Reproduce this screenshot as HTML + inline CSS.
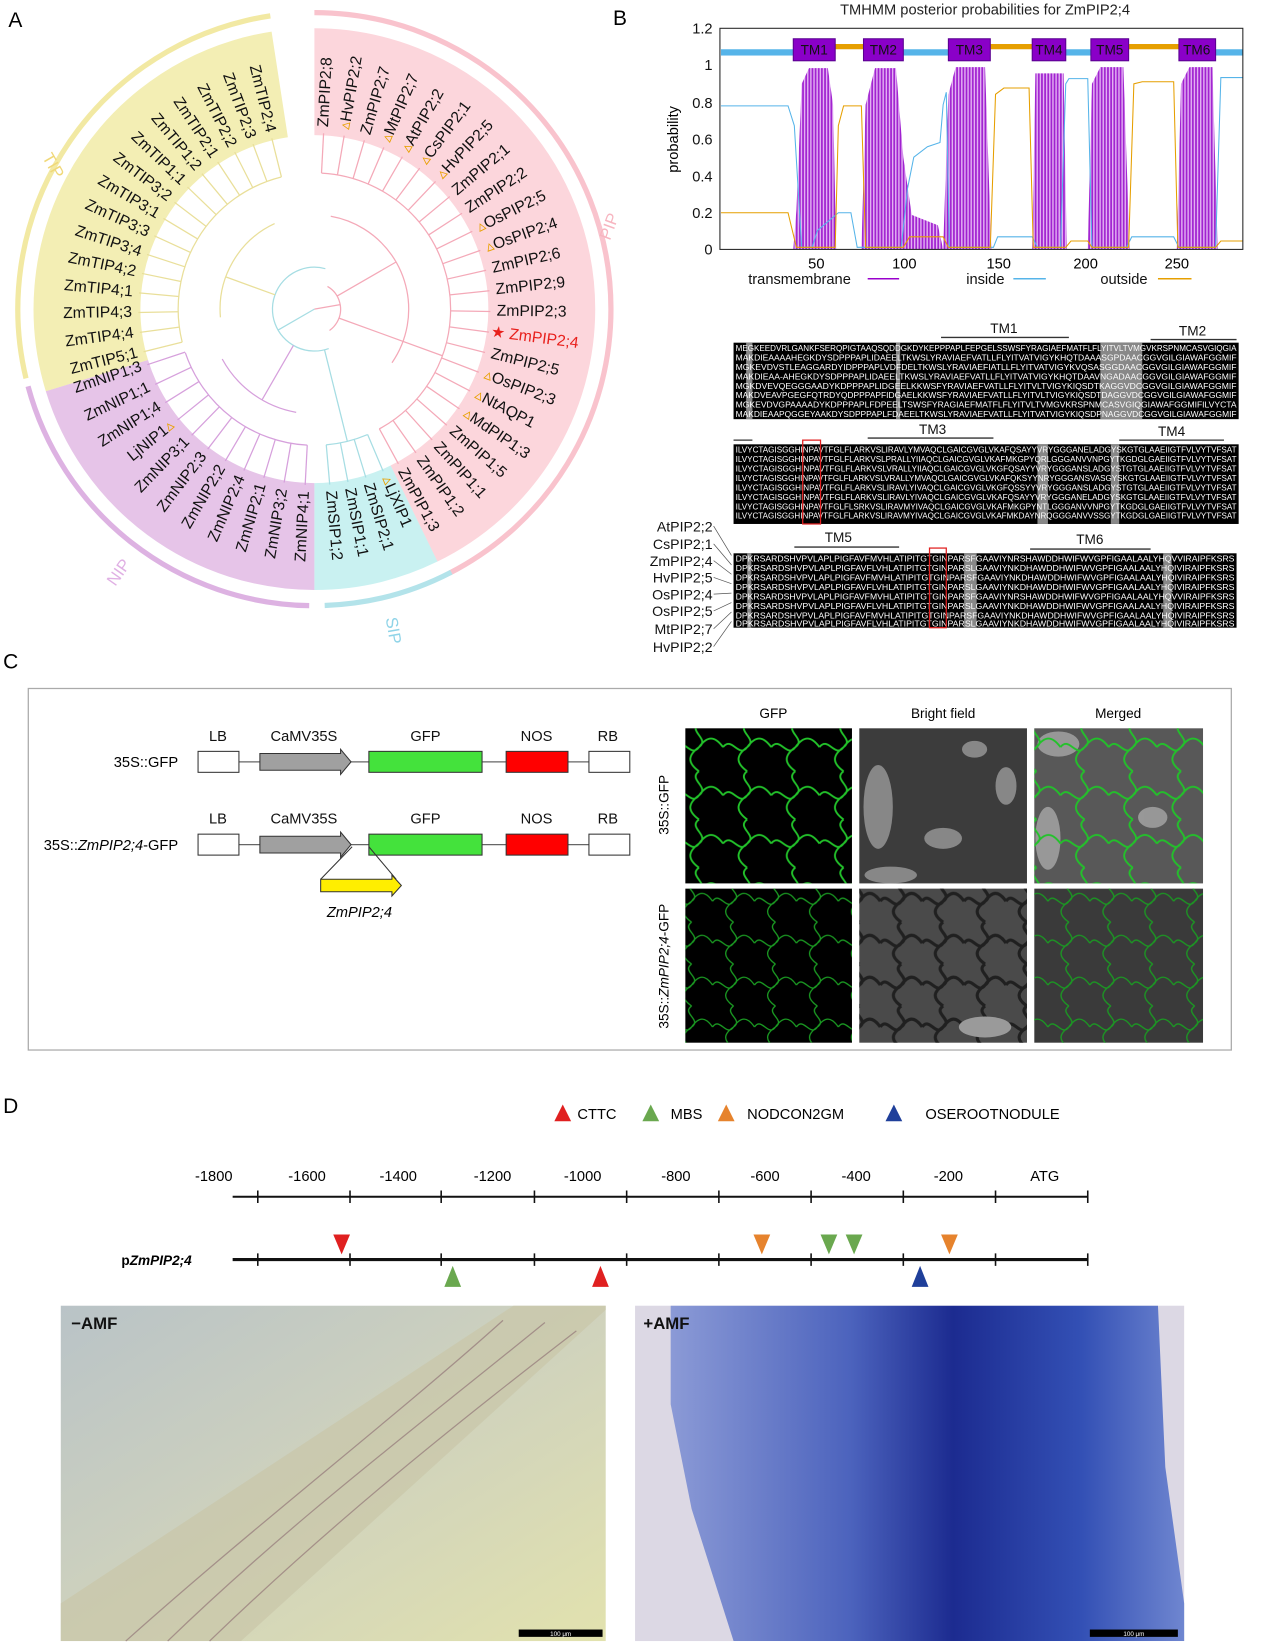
<!DOCTYPE html>
<html><head><meta charset="utf-8"><style>
html,body{margin:0;padding:0;background:#fff;width:1268px;height:1642px;overflow:hidden}
#c{position:absolute;left:0;top:0;width:1210px;height:1567px;transform:scale(1.04793);transform-origin:0 0;font-family:"Liberation Sans",Arial,sans-serif}
svg text{font-family:"Liberation Sans",Arial,sans-serif}
</style></head><body><div id="c">
<svg width="1210" height="1567" viewBox="0 0 1210 1567" xmlns="http://www.w3.org/2000/svg">
<defs>
<pattern id="stripe" width="3" height="10" patternUnits="userSpaceOnUse"><rect width="3" height="10" fill="#e2b0f2"/><rect x="0.5" width="1.6" height="10" fill="#a020d0"/></pattern>
<pattern id="cellG" width="46" height="46" patternUnits="userSpaceOnUse"><path d="M0,23 C8,12 15,34 23,23 S38,12 46,23 M23,0 C12,8 34,15 23,23 S12,38 23,46" fill="none" stroke="#22c22a" stroke-width="1.8"/></pattern>
<pattern id="cellG2" width="40" height="40" patternUnits="userSpaceOnUse"><path d="M0,20 C7,10 13,30 20,20 S33,10 40,20 M20,0 C10,7 30,13 20,20 S10,33 20,40" fill="none" stroke="#1a9a22" stroke-width="1.3"/></pattern>
<pattern id="cellK" width="40" height="40" patternUnits="userSpaceOnUse"><path d="M0,20 C7,10 13,30 20,20 S33,10 40,20 M20,0 C10,7 30,13 20,20 S10,33 20,40" fill="none" stroke="#202020" stroke-width="3"/></pattern>
<linearGradient id="rootL" x1="0" y1="0" x2="1" y2="1"><stop offset="0" stop-color="#b9c3c7"/><stop offset="0.5" stop-color="#cfd2bd"/><stop offset="1" stop-color="#e2e2ae"/></linearGradient>
<linearGradient id="rootR" x1="0" y1="0" x2="1" y2="0"><stop offset="0" stop-color="#8b9ad6"/><stop offset="0.35" stop-color="#4c63bd"/><stop offset="0.55" stop-color="#1c2b90"/><stop offset="0.8" stop-color="#3350b5"/><stop offset="1" stop-color="#6f86d0"/></linearGradient>
</defs>

<text x="8" y="26" font-size="20">A</text>
<text x="585" y="24" font-size="20">B</text>
<text x="3" y="638" font-size="20">C</text>
<text x="3" y="1062" font-size="20">D</text>

<!-- ===== Panel A: tree ===== -->
<g fill="none">
<circle cx="300" cy="295" r="217" stroke="#fcd6dc" stroke-width="102" stroke-dasharray="583.3 2000" transform="rotate(-90 300 295)"/>
<circle cx="300" cy="295" r="217" stroke="#c9f1f1" stroke-width="102" stroke-dasharray="98.5 2000" transform="rotate(64 300 295)"/>
<circle cx="300" cy="295" r="217" stroke="#e6c4e8" stroke-width="102" stroke-dasharray="276.5 2000" transform="rotate(90 300 295)"/>
<circle cx="300" cy="295" r="217" stroke="#f3eeb4" stroke-width="102" stroke-dasharray="372 2000" transform="rotate(163 300 295)"/>
<circle cx="300" cy="295" r="283" stroke="#f2e9a3" stroke-width="5" stroke-dasharray="469 3000" transform="rotate(166.5 300 295)"/>
<circle cx="300" cy="295" r="283" stroke="#f9c3cd" stroke-width="5" stroke-dasharray="755 3000" transform="rotate(-90 300 295)"/>
<circle cx="300" cy="295" r="283" stroke="#ddb2e2" stroke-width="5" stroke-dasharray="365 3000" transform="rotate(91 300 295)"/>
<circle cx="300" cy="295" r="283" stroke="#b3e3ea" stroke-width="5" stroke-dasharray="126 3000" transform="rotate(62.5 300 295)"/>
<circle cx="300" cy="295" r="130" stroke="#f4a9b8" stroke-width="1.2" stroke-dasharray="337 2000" transform="rotate(-87 300 295)"/>
<circle cx="300" cy="295" r="90" stroke="#f4a9b8" stroke-width="1.2" stroke-dasharray="180 2000" transform="rotate(-80 300 295)"/>
<circle cx="300" cy="295" r="130" stroke="#a6dde3" stroke-width="1.2" stroke-dasharray="41 2000" transform="rotate(67 300 295)"/>
<circle cx="300" cy="295" r="130" stroke="#d6a0dc" stroke-width="1.2" stroke-dasharray="155 2000" transform="rotate(93 300 295)"/>
<circle cx="300" cy="295" r="100" stroke="#d6a0dc" stroke-width="1.2" stroke-dasharray="90 2000" transform="rotate(100 300 295)"/>
<circle cx="300" cy="295" r="130" stroke="#e9df9a" stroke-width="1.2" stroke-dasharray="204 2000" transform="rotate(166 300 295)"/>
<circle cx="300" cy="295" r="90" stroke="#e9df9a" stroke-width="1.2" stroke-dasharray="110 2000" transform="rotate(175 300 295)"/>
<circle cx="300" cy="295" r="40" stroke="#a6dde3" stroke-width="1.2" stroke-dasharray="150 2000" transform="rotate(70 300 295)"/>
<circle cx="300" cy="295" r="25" stroke="#f4a9b8" stroke-width="1.2" stroke-dasharray="50 2000" transform="rotate(-60 300 295)"/>
</g>
<g stroke-width="1.2">
<g stroke="#f4a9b8">
<line x1="430" y1="295" x2="468" y2="295" transform="rotate(-87 300 295)"/><line x1="430" y1="295" x2="468" y2="295" transform="rotate(-80.25 300 295)"/><line x1="430" y1="295" x2="468" y2="295" transform="rotate(-73.5 300 295)"/><line x1="430" y1="295" x2="468" y2="295" transform="rotate(-66.75 300 295)"/><line x1="430" y1="295" x2="468" y2="295" transform="rotate(-60 300 295)"/><line x1="430" y1="295" x2="468" y2="295" transform="rotate(-53.25 300 295)"/><line x1="430" y1="295" x2="468" y2="295" transform="rotate(-46.5 300 295)"/><line x1="430" y1="295" x2="468" y2="295" transform="rotate(-39.75 300 295)"/><line x1="430" y1="295" x2="468" y2="295" transform="rotate(-33 300 295)"/><line x1="430" y1="295" x2="468" y2="295" transform="rotate(-26.25 300 295)"/><line x1="430" y1="295" x2="468" y2="295" transform="rotate(-19.5 300 295)"/><line x1="430" y1="295" x2="468" y2="295" transform="rotate(-12.75 300 295)"/><line x1="430" y1="295" x2="468" y2="295" transform="rotate(-6 300 295)"/><line x1="430" y1="295" x2="468" y2="295" transform="rotate(0.75 300 295)"/><line x1="430" y1="295" x2="468" y2="295" transform="rotate(7.5 300 295)"/><line x1="430" y1="295" x2="468" y2="295" transform="rotate(14.25 300 295)"/><line x1="430" y1="295" x2="468" y2="295" transform="rotate(21 300 295)"/><line x1="430" y1="295" x2="468" y2="295" transform="rotate(27.75 300 295)"/><line x1="430" y1="295" x2="468" y2="295" transform="rotate(34.5 300 295)"/><line x1="430" y1="295" x2="468" y2="295" transform="rotate(41.25 300 295)"/><line x1="430" y1="295" x2="468" y2="295" transform="rotate(48 300 295)"/><line x1="430" y1="295" x2="468" y2="295" transform="rotate(54.75 300 295)"/><line x1="430" y1="295" x2="468" y2="295" transform="rotate(61.5 300 295)"/>
<line x1="325" y1="295" x2="390" y2="295" transform="rotate(-30 300 295)"/><line x1="325" y1="295" x2="430" y2="295" transform="rotate(20 300 295)"/><line x1="300" y1="295" x2="325" y2="295" transform="rotate(-10 300 295)"/>
</g>
<g stroke="#a6dde3">
<line x1="430" y1="295" x2="468" y2="295" transform="rotate(67 300 295)"/><line x1="430" y1="295" x2="468" y2="295" transform="rotate(73 300 295)"/><line x1="430" y1="295" x2="468" y2="295" transform="rotate(79 300 295)"/><line x1="430" y1="295" x2="468" y2="295" transform="rotate(85 300 295)"/>
<line x1="340" y1="295" x2="430" y2="295" transform="rotate(76 300 295)"/><line x1="300" y1="295" x2="340" y2="295" transform="rotate(150 300 295)"/>
</g>
<g stroke="#d6a0dc">
<line x1="430" y1="295" x2="468" y2="295" transform="rotate(93 300 295)"/><line x1="430" y1="295" x2="468" y2="295" transform="rotate(99.9 300 295)"/><line x1="430" y1="295" x2="468" y2="295" transform="rotate(106.7 300 295)"/><line x1="430" y1="295" x2="468" y2="295" transform="rotate(113.6 300 295)"/><line x1="430" y1="295" x2="468" y2="295" transform="rotate(120.4 300 295)"/><line x1="430" y1="295" x2="468" y2="295" transform="rotate(127.3 300 295)"/><line x1="430" y1="295" x2="468" y2="295" transform="rotate(134.2 300 295)"/><line x1="430" y1="295" x2="468" y2="295" transform="rotate(141 300 295)"/><line x1="430" y1="295" x2="468" y2="295" transform="rotate(147.9 300 295)"/><line x1="430" y1="295" x2="468" y2="295" transform="rotate(154.7 300 295)"/><line x1="430" y1="295" x2="468" y2="295" transform="rotate(161.6 300 295)"/>
<line x1="340" y1="295" x2="400" y2="295" transform="rotate(120 300 295)"/>
</g>
<g stroke="#e9df9a">
<line x1="430" y1="295" x2="468" y2="295" transform="rotate(166 300 295)"/><line x1="430" y1="295" x2="468" y2="295" transform="rotate(172.4 300 295)"/><line x1="430" y1="295" x2="468" y2="295" transform="rotate(178.9 300 295)"/><line x1="430" y1="295" x2="468" y2="295" transform="rotate(185.3 300 295)"/><line x1="430" y1="295" x2="468" y2="295" transform="rotate(191.7 300 295)"/><line x1="430" y1="295" x2="468" y2="295" transform="rotate(198.1 300 295)"/><line x1="430" y1="295" x2="468" y2="295" transform="rotate(204.6 300 295)"/><line x1="430" y1="295" x2="468" y2="295" transform="rotate(211 300 295)"/><line x1="430" y1="295" x2="468" y2="295" transform="rotate(217.4 300 295)"/><line x1="430" y1="295" x2="468" y2="295" transform="rotate(223.9 300 295)"/><line x1="430" y1="295" x2="468" y2="295" transform="rotate(230.3 300 295)"/><line x1="430" y1="295" x2="468" y2="295" transform="rotate(236.7 300 295)"/><line x1="430" y1="295" x2="468" y2="295" transform="rotate(243.1 300 295)"/><line x1="430" y1="295" x2="468" y2="295" transform="rotate(249.6 300 295)"/><line x1="430" y1="295" x2="468" y2="295" transform="rotate(256 300 295)"/>
<line x1="340" y1="295" x2="390" y2="295" transform="rotate(200 300 295)"/>
</g>
</g>
<g font-size="15" fill="#111" dominant-baseline="middle">
<text x="474" y="295" transform="rotate(-87 300 295)">ZmPIP2;8</text>
<text x="474" y="295" transform="rotate(-80.25 300 295)"><tspan fill="#e8a000">▵</tspan>HvPIP2;2</text>
<text x="474" y="295" transform="rotate(-73.5 300 295)">ZmPIP2;7</text>
<text x="474" y="295" transform="rotate(-66.75 300 295)"><tspan fill="#e8a000">▵</tspan>MtPIP2;7</text>
<text x="474" y="295" transform="rotate(-60 300 295)"><tspan fill="#e8a000">▵</tspan>AtPIP2;2</text>
<text x="474" y="295" transform="rotate(-53.25 300 295)"><tspan fill="#e8a000">▵</tspan>CsPIP2;1</text>
<text x="474" y="295" transform="rotate(-46.5 300 295)"><tspan fill="#e8a000">▵</tspan>HvPIP2;5</text>
<text x="474" y="295" transform="rotate(-39.75 300 295)">ZmPIP2;1</text>
<text x="474" y="295" transform="rotate(-33 300 295)">ZmPIP2;2</text>
<text x="474" y="295" transform="rotate(-26.25 300 295)"><tspan fill="#e8a000">▵</tspan>OsPIP2;5</text>
<text x="474" y="295" transform="rotate(-19.5 300 295)"><tspan fill="#e8a000">▵</tspan>OsPIP2;4</text>
<text x="474" y="295" transform="rotate(-12.75 300 295)">ZmPIP2;6</text>
<text x="474" y="295" transform="rotate(-6 300 295)">ZmPIP2;9</text>
<text x="474" y="295" transform="rotate(0.75 300 295)">ZmPIP2;3</text>
<text x="470" y="295" transform="rotate(7.5 300 295)" fill="#e8201c">★ ZmPIP2;4</text>
<text x="474" y="295" transform="rotate(14.25 300 295)">ZmPIP2;5</text>
<text x="474" y="295" transform="rotate(21 300 295)"><tspan fill="#e8a000">▵</tspan>OsPIP2;3</text>
<text x="474" y="295" transform="rotate(27.75 300 295)"><tspan fill="#e8a000">▵</tspan>NtAQP1</text>
<text x="474" y="295" transform="rotate(34.5 300 295)"><tspan fill="#e8a000">▵</tspan>MdPIP1;3</text>
<text x="474" y="295" transform="rotate(41.25 300 295)">ZmPIP1;5</text>
<text x="474" y="295" transform="rotate(48 300 295)">ZmPIP1;1</text>
<text x="474" y="295" transform="rotate(54.75 300 295)">ZmPIP1;2</text>
<text x="474" y="295" transform="rotate(61.5 300 295)">ZmPIP1;3</text>
<text x="474" y="295" transform="rotate(67 300 295)"><tspan fill="#e8a000">▵</tspan>LjXIP1</text>
<text x="474" y="295" transform="rotate(73 300 295)">ZmSIP2;1</text>
<text x="474" y="295" transform="rotate(79 300 295)">ZmSIP1;1</text>
<text x="474" y="295" transform="rotate(85 300 295)">ZmSIP1;2</text>
<g text-anchor="end">
<text x="126" y="295" transform="rotate(-87 300 295)">ZmNIP4;1</text>
<text x="126" y="295" transform="rotate(-80.1 300 295)">ZmNIP3;2</text>
<text x="126" y="295" transform="rotate(-73.3 300 295)">ZmNIP2;1</text>
<text x="126" y="295" transform="rotate(-66.4 300 295)">ZmNIP2;4</text>
<text x="126" y="295" transform="rotate(-59.6 300 295)">ZmNIP2;2</text>
<text x="126" y="295" transform="rotate(-52.7 300 295)">ZmNIP2;3</text>
<text x="126" y="295" transform="rotate(-45.8 300 295)">ZmNIP3;1</text>
<text x="126" y="295" transform="rotate(-39 300 295)">LjNIP1<tspan fill="#e8a000">▵</tspan></text>
<text x="126" y="295" transform="rotate(-32.1 300 295)">ZmNIP1;4</text>
<text x="126" y="295" transform="rotate(-25.3 300 295)">ZmNIP1;1</text>
<text x="126" y="295" transform="rotate(-18.4 300 295)">ZmNIP1;3</text>
<text x="126" y="295" transform="rotate(-14 300 295)">ZmTIP5;1</text>
<text x="126" y="295" transform="rotate(-7.6 300 295)">ZmTIP4;4</text>
<text x="126" y="295" transform="rotate(-1.1 300 295)">ZmTIP4;3</text>
<text x="126" y="295" transform="rotate(5.3 300 295)">ZmTIP4;1</text>
<text x="126" y="295" transform="rotate(11.7 300 295)">ZmTIP4;2</text>
<text x="126" y="295" transform="rotate(18.1 300 295)">ZmTIP3;4</text>
<text x="126" y="295" transform="rotate(24.6 300 295)">ZmTIP3;3</text>
<text x="126" y="295" transform="rotate(31 300 295)">ZmTIP3;1</text>
<text x="126" y="295" transform="rotate(37.4 300 295)">ZmTIP3;2</text>
<text x="126" y="295" transform="rotate(43.9 300 295)">ZmTIP1;1</text>
<text x="126" y="295" transform="rotate(50.3 300 295)">ZmTIP1;2</text>
<text x="126" y="295" transform="rotate(56.7 300 295)">ZmTIP2;1</text>
<text x="126" y="295" transform="rotate(63.1 300 295)">ZmTIP2;2</text>
<text x="126" y="295" transform="rotate(69.6 300 295)">ZmTIP2;3</text>
<text x="126" y="295" transform="rotate(76 300 295)">ZmTIP2;4</text>
</g>
</g>
<text x="40" y="150" font-size="16" fill="#f0d878" transform="rotate(60 40 150)">TIP</text>
<text x="582" y="230" font-size="16" fill="#f7b5c0" transform="rotate(-70 582 230)">PIP</text>
<text x="110" y="560" font-size="16" fill="#e0b0e4" transform="rotate(-55 110 560)">NIP</text>
<text x="368" y="590" font-size="16" fill="#90d4e8" transform="rotate(80 368 590)">SIP</text>

<!-- ===== Panel B ===== -->
<text x="940" y="14" font-size="14" text-anchor="middle" fill="#222">TMHMM posterior probabilities for ZmPIP2;4</text>
<g font-size="14" fill="#111" text-anchor="end">
<text x="680" y="32">1.2</text><text x="680" y="67">1</text><text x="680" y="103">0.8</text><text x="680" y="138">0.6</text><text x="680" y="173">0.4</text><text x="680" y="208">0.2</text><text x="680" y="243">0</text>
</g>
<text x="647" y="133" font-size="14" transform="rotate(-90 647 133)" text-anchor="middle">probability</text>
<g font-size="14" text-anchor="middle"><text x="779" y="256">50</text><text x="863" y="256">100</text><text x="953" y="256">150</text><text x="1036" y="256">200</text><text x="1123" y="256">250</text></g>
<path d="M757,238 L760,200 L765,80 L772,65 L790,65 L795,100 L798,238 Z M822,238 L826,100 L835,65 L855,65 L862,150 L870,205 L895,215 L900,238 Z M900,238 L905,90 L912,64 L940,64 L946,238 Z M985,238 L988,70 L1015,70 L1018,238 Z M1038,238 L1042,80 L1050,64 L1072,64 L1078,238 Z M1123,238 L1127,80 L1135,64 L1157,64 L1162,238 Z" fill="url(#stripe)"/>
<polyline fill="none" stroke="#56b4e9" stroke-width="1" points="688,101 752,101 758,120 765,236 775,236 780,220 800,203 812,203 818,236 860,236 866,180 872,150 885,140 897,136 900,100 903,88 906,236 948,236 952,226 985,226 990,236 1012,236 1017,80 1020,75 1038,75 1042,236 1075,236 1080,226 1120,226 1125,236 1160,236 1165,74 1186,74"/>
<polyline fill="none" stroke="#e69f00" stroke-width="1" points="688,203 752,203 760,236 797,236 800,120 805,101 822,101 826,236 862,236 868,226 900,226 905,236 945,236 950,90 958,84 982,84 986,236 1017,236 1022,230 1038,230 1042,236 1077,236 1082,80 1090,78 1120,78 1124,236 1160,236 1165,230 1186,230"/>
<g fill="#56b4e9"><rect x="688" y="47" width="69" height="6"/><rect x="862" y="47" width="43" height="6"/><rect x="1017" y="47" width="24" height="6"/><rect x="1160" y="47" width="26" height="6"/></g>
<g fill="#e69f00"><rect x="797" y="42" width="27" height="5"/><rect x="945" y="42" width="40" height="5"/><rect x="1077" y="42" width="48" height="5"/></g>
<g fill="#8a00c8" stroke="#5a0090"><rect x="757" y="37" width="40" height="21"/><rect x="824" y="37" width="38" height="21"/><rect x="905" y="37" width="40" height="21"/><rect x="985" y="37" width="32" height="21"/><rect x="1041" y="37" width="36" height="21"/><rect x="1125" y="37" width="35" height="21"/></g>
<g font-size="13" fill="#111" text-anchor="middle"><text x="777" y="52">TM1</text><text x="843" y="52">TM2</text><text x="925" y="52">TM3</text><text x="1001" y="52">TM4</text><text x="1059" y="52">TM5</text><text x="1142" y="52">TM6</text></g>
<rect x="687" y="27" width="499" height="211" fill="none" stroke="#222" stroke-width="1"/>
<g font-size="14" fill="#111"><text x="714" y="271">transmembrane</text><text x="922" y="271">inside</text><text x="1050" y="271">outside</text></g>
<line x1="828" y1="266" x2="858" y2="266" stroke="#9900cc" stroke-width="1.5"/><line x1="967" y1="266" x2="998" y2="266" stroke="#56b4e9" stroke-width="1.5"/><line x1="1105" y1="266" x2="1137" y2="266" stroke="#e69f00" stroke-width="1.5"/>

<g font-size="13" fill="#111" text-anchor="middle"><text x="958" y="318">TM1</text><text x="1138" y="320">TM2</text><text x="890" y="414">TM3</text><text x="1118" y="416">TM4</text><text x="800" y="517">TM5</text><text x="1040" y="519">TM6</text></g>
<g stroke="#333" stroke-width="1.3"><line x1="898" y1="322" x2="1020" y2="322"/><line x1="1098" y1="324" x2="1180" y2="324"/><line x1="700" y1="420" x2="718" y2="420"/><line x1="828" y1="418" x2="948" y2="418"/><line x1="1068" y1="420" x2="1168" y2="420"/><line x1="758" y1="522" x2="858" y2="522"/><line x1="983" y1="524" x2="1098" y2="524"/></g>
<rect x="700" y="327" width="482" height="73" fill="#000"/>
<rect x="700" y="424" width="482" height="76" fill="#000"/>
<rect x="700" y="528" width="480" height="71" fill="#000"/>
<g fill="#888"><rect x="712" y="327" width="6" height="73"/><rect x="855" y="327" width="4" height="73"/><rect x="1050" y="327" width="40" height="73"/><rect x="990" y="424" width="10" height="76"/><rect x="1060" y="424" width="8" height="76"/><rect x="713" y="528" width="4" height="71"/><rect x="920" y="528" width="12" height="71"/><rect x="1110" y="528" width="8" height="71"/></g>
<g font-family="Liberation Mono,monospace" font-size="7.5" fill="#fff">
<text x="702" y="335" textLength="478" lengthAdjust="spacingAndGlyphs">MEGKEEDVRLGANKFSERQPIGTAAQSQDDGKDYKEPPPAPLFEPGELSSWSFYRAGIAEFMATFLFLYITVLTVMGVKRSPNMCASVGIQGIA</text>
<text x="702" y="344" textLength="478" lengthAdjust="spacingAndGlyphs">MAKDIEAAAAHEGKDYSDPPPAPLIDAEELTKWSLYRAVIAEFVATLLFLYITVATVIGYKHQTDAAASGPDAACGGVGILGIAWAFGGMIF</text>
<text x="702" y="353" textLength="478" lengthAdjust="spacingAndGlyphs">MGKEVDVSTLEAGGARDYIDPPPAPLVDFDELTKWSLYRAVIAEFIATLLFLYITVATVIGYKVQSASGGDAACGGVGILGIAWAFGGMIF</text>
<text x="702" y="362" textLength="478" lengthAdjust="spacingAndGlyphs">MAKDIEAA-AHEGKDYSDPPPAPLIDAEELTKWSLYRAVIAEFVATLLFLYITVATVIGYKHQTDAAVNGADAACGGVGILGIAWAFGGMIF</text>
<text x="702" y="371" textLength="478" lengthAdjust="spacingAndGlyphs">MGKDVEVQEGGGAADYKDPPPAPLIDGEELKKWSFYRAVIAEFVATLLFLYITVLTVIGYKIQSDTKAGGVDCGGVGILGIAWAFGGMIF</text>
<text x="702" y="380" textLength="478" lengthAdjust="spacingAndGlyphs">MAKDVEAVPGEGFQTRDYQDPPPAPFIDGAELKKWSFYRAVIAEFVATLLFLYITVLTVIGYKIQSDTDAGGVDCGGVGILGIAWAFGGMIF</text>
<text x="702" y="389" textLength="478" lengthAdjust="spacingAndGlyphs">MGKEVDVGPAAAADYKDPPPAPLFDPEELTSWSFYRAGIAEFMATFLFLYITVLTVMGVKRSPNMCASVGIQGIAWAFGGMIFILVYCTA</text>
<text x="702" y="398" textLength="478" lengthAdjust="spacingAndGlyphs">MAKDIEAAPQGGEYAAKDYSDPPPAPLFDAEELTKWSLYRAVIAEFVATLLFLYITVATVIGYKIQSDPNAGGVDCGGVGILGIAWAFGGMIF</text>
<text x="702" y="432" textLength="478" lengthAdjust="spacingAndGlyphs">ILVYCTAGISGGHINPAVTFGLFLARKVSLIRAVLYMVAQCLGAICGVGLVKAFQSAYYVRYGGGANELADGYSKGTGLAAEIIGTFVLVYTVFSAT</text>
<text x="702" y="441" textLength="478" lengthAdjust="spacingAndGlyphs">ILVYCTAGISGGHINPAVTFGLFLARKVSLPRALLYIIAQCLGAICGVGLVKAFMKGPYQRLGGGANVVNPGYTKGDGLGAEIIGTFVLVYTVFSAT</text>
<text x="702" y="450" textLength="478" lengthAdjust="spacingAndGlyphs">ILVYCTAGISGGHINPAVTFGLFLARKVSLVRALLYIIAQCLGAICGVGLVKGFQSAYYVRYGGGANSLADGYSTGTGLAAEIIGTFVLVYTVFSAT</text>
<text x="702" y="459" textLength="478" lengthAdjust="spacingAndGlyphs">ILVYCTAGISGGHINPAVTFGLFLARKVSLVRALLYMVAQCLGAICGVGLVKAFQKSYYNRYGGGANSVASGYSKGTGLAAEIIGTFVLVYTVFSAT</text>
<text x="702" y="468" textLength="478" lengthAdjust="spacingAndGlyphs">ILVYCTAGISGGHINPAVTFGLFLARKVSLIRAVLYIVAQCLGAICGVGLVKGFQSSYYVRYGGGANSLADGYSTGTGLAAEIIGTFVLVYTVFSAT</text>
<text x="702" y="477" textLength="478" lengthAdjust="spacingAndGlyphs">ILVYCTAGISGGHINPAVTFGLFLARKVSLIRAVLYIVAQCLGAICGVGLVKAFQSAYYVRYGGGANELADGYSKGTGLAAEIIGTFVLVYTVFSAT</text>
<text x="702" y="486" textLength="478" lengthAdjust="spacingAndGlyphs">ILVYCTAGISGGHINPAVTFGLFLSRKVSLIRAVMYIVAQCLGAICGVGLVKAFMKGPYNTLGGGANVVNPGYTKGDGLGAEIIGTFVLVYTVFSAT</text>
<text x="702" y="495" textLength="478" lengthAdjust="spacingAndGlyphs">ILVYCTAGISGGHINPAVTFGLFLARKVSLIRAVMYIVAQCLGAICGVGLVKAFMKDAYNRQGGGANVVSSGYTKGDGLGAEIIGTFVLVYTVFSAT</text>
<text x="702" y="536" textLength="476" lengthAdjust="spacingAndGlyphs">DPKRSARDSHVPVLAPLPIGFAVFMVHLATIPITGTGINPARSFGAAVIYNRSHAWDDHWIFWVGPFIGAALAALYHQVVIRAIPFKSRS</text>
<text x="702" y="545" textLength="476" lengthAdjust="spacingAndGlyphs">DPKRSARDSHVPVLAPLPIGFAVFLVHLATIPITGTGINPARSLGAAVIYNKDHAWDDHWIFWVGPFIGAALAALYHQIVIRAIPFKSRS</text>
<text x="702" y="554" textLength="476" lengthAdjust="spacingAndGlyphs">DPKRSARDSHVPVLAPLPIGFAVFMVHLATIPITGTGINPARSFGAAVIYNKDHAWDDHWIFWVGPFIGAALAALYHQIVIRAIPFKSRS</text>
<text x="702" y="563" textLength="476" lengthAdjust="spacingAndGlyphs">DPKRSARDSHVPVLAPLPIGFAVFLVHLATIPITGTGINPARSLGAAVIYNKDHAWDDHWIFWVGPFIGAALAALYHQIVIRAIPFKSRS</text>
<text x="702" y="572" textLength="476" lengthAdjust="spacingAndGlyphs">DPKRSARDSHVPVLAPLPIGFAVFMVHLATIPITGTGINPARSFGAAVIYNRSHAWDDHWIFWVGPFIGAALAALYHQVVIRAIPFKSRS</text>
<text x="702" y="581" textLength="476" lengthAdjust="spacingAndGlyphs">DPKRSARDSHVPVLAPLPIGFAVFLVHLATIPITGTGINPARSLGAAVIYNKDHAWDDHWIFWVGPFIGAALAALYHQIVIRAIPFKSRS</text>
<text x="702" y="590" textLength="476" lengthAdjust="spacingAndGlyphs">DPKRSARDSHVPVLAPLPIGFAVFMVHLATIPITGTGINPARSFGAAVIYNKDHAWDDHWIFWVGPFIGAALAALYHQIVIRAIPFKSRS</text>
<text x="702" y="598" textLength="476" lengthAdjust="spacingAndGlyphs">DPKRSARDSHVPVLAPLPIGFAVFLVHLATIPITGTGINPARSLGAAVIYNKDHAWDDHWIFWVGPFIGAALAALYHQIVIRAIPFKSRS</text>
</g>
<rect x="766" y="420" width="17" height="80" fill="none" stroke="#e02020" stroke-width="1.2"/>
<rect x="887" y="523" width="16" height="76" fill="none" stroke="#e02020" stroke-width="1.2"/>
<g font-size="13.5" fill="#111" text-anchor="end"><text x="680" y="507">AtPIP2;2</text><text x="680" y="524">CsPIP2;1</text><text x="680" y="540">ZmPIP2;4</text><text x="680" y="556">HvPIP2;5</text><text x="680" y="572">OsPIP2;4</text><text x="680" y="588">OsPIP2;5</text><text x="680" y="605">MtPIP2;7</text><text x="680" y="622">HvPIP2;2</text></g>
<g stroke="#555" stroke-width="0.7" fill="none"><path d="M681,502 L698,530 M681,519 L698,539 M681,535 L698,548 M681,551 L698,557 M681,567 L698,566 M681,583 L698,575 M681,600 L698,584 M681,617 L698,593"/></g>

<!-- ===== Panel C ===== -->
<rect x="27" y="657" width="1148" height="345" fill="none" stroke="#aaa" stroke-width="1.2"/>
<g font-size="14" fill="#111" text-anchor="middle">
<text x="208" y="707">LB</text><text x="290" y="707">CaMV35S</text><text x="406" y="707">GFP</text><text x="512" y="707">NOS</text><text x="580" y="707">RB</text>
<text x="208" y="786">LB</text><text x="290" y="786">CaMV35S</text><text x="406" y="786">GFP</text><text x="512" y="786">NOS</text><text x="580" y="786">RB</text>
</g>
<text x="170" y="732" font-size="14" text-anchor="end">35S::GFP</text>
<text x="170" y="811" font-size="14" text-anchor="end">35S::<tspan font-style="italic">ZmPIP2;4</tspan>-GFP</text>
<g stroke="#666" stroke-width="1.2"><line x1="189" y1="727" x2="601" y2="727"/><line x1="189" y1="806" x2="601" y2="806"/></g>
<g stroke="#333" stroke-width="1">
<rect x="189" y="717" width="39" height="20" fill="#fff"/><polygon points="248,719 325,719 325,715 335,727 325,739 325,735 248,735" fill="#a0a0a0"/><rect x="352" y="717" width="108" height="20" fill="#44e23c"/><rect x="483" y="717" width="59" height="20" fill="#ff0000"/><rect x="562" y="717" width="39" height="20" fill="#fff"/>
<rect x="189" y="796" width="39" height="20" fill="#fff"/><polygon points="248,798 325,798 325,794 335,806 325,818 325,814 248,814" fill="#a0a0a0"/><rect x="352" y="796" width="108" height="20" fill="#44e23c"/><rect x="483" y="796" width="59" height="20" fill="#ff0000"/><rect x="562" y="796" width="39" height="20" fill="#fff"/>
<polygon points="306,839 374,839 374,835 383,845 374,855 374,851 306,851" fill="#ffee00"/>
<line x1="336" y1="808" x2="306" y2="839"/><line x1="352" y1="808" x2="378" y2="839"/>
</g>
<text x="343" y="875" font-size="14" font-style="italic" text-anchor="middle">ZmPIP2;4</text>
<g font-size="13" text-anchor="middle"><text x="738" y="685">GFP</text><text x="900" y="685">Bright field</text><text x="1067" y="685">Merged</text></g>
<text x="638" y="768" font-size="13" transform="rotate(-90 638 768)" text-anchor="middle">35S::GFP</text>
<text x="638" y="922" font-size="13" transform="rotate(-90 638 922)" text-anchor="middle">35S::<tspan font-style="italic">ZmPIP2;4</tspan>-GFP</text>
<rect x="654" y="695" width="159" height="148" fill="#000"/><rect x="654" y="695" width="159" height="148" fill="url(#cellG)"/>
<rect x="820" y="695" width="160" height="148" fill="#3c3c3c"/>
<g fill="#9a9a9a" opacity="0.8"><ellipse cx="838" cy="770" rx="14" ry="40"/><ellipse cx="900" cy="800" rx="18" ry="10"/><ellipse cx="960" cy="750" rx="10" ry="18"/><ellipse cx="850" cy="835" rx="25" ry="8"/><ellipse cx="930" cy="715" rx="12" ry="8"/></g>
<rect x="987" y="695" width="161" height="148" fill="#585858"/>
<g fill="#a8a8a8" opacity="0.8"><ellipse cx="1010" cy="710" rx="20" ry="12"/><ellipse cx="1000" cy="800" rx="12" ry="30"/><ellipse cx="1100" cy="780" rx="14" ry="10"/></g>
<rect x="987" y="695" width="161" height="148" fill="url(#cellG)"/>
<rect x="654" y="848" width="159" height="147" fill="#000"/><rect x="654" y="848" width="159" height="147" fill="url(#cellG2)"/>
<rect x="820" y="848" width="160" height="147" fill="#4a4a4a"/><rect x="820" y="848" width="160" height="147" fill="url(#cellK)"/><ellipse cx="940" cy="980" rx="25" ry="10" fill="#9a9a9a"/>
<rect x="987" y="848" width="161" height="147" fill="#3a3a3a"/><rect x="987" y="848" width="161" height="147" fill="url(#cellG2)"/>

<!-- ===== Panel D ===== -->
<g font-size="14">
<polygon points="537,1054 529,1070 545,1070" fill="#e02020"/><text x="551" y="1068">CTTC</text>
<polygon points="621,1054 613,1070 629,1070" fill="#6aa84f"/><text x="640" y="1068">MBS</text>
<polygon points="693,1054 685,1070 701,1070" fill="#e6832d"/><text x="713" y="1068">NODCON2GM</text>
<polygon points="853,1054 845,1070 861,1070" fill="#1f3f9a"/><text x="883" y="1068">OSEROOTNODULE</text>
</g>
<g font-size="14" text-anchor="middle"><text x="204" y="1127">-1800</text><text x="293" y="1127">-1600</text><text x="380" y="1127">-1400</text><text x="470" y="1127">-1200</text><text x="556" y="1127">-1000</text><text x="645" y="1127">-800</text><text x="730" y="1127">-600</text><text x="817" y="1127">-400</text><text x="905" y="1127">-200</text><text x="997" y="1127">ATG</text></g>
<g stroke="#111">
<line x1="222" y1="1142" x2="1038" y2="1142" stroke-width="2"/>
<line x1="222" y1="1202" x2="1038" y2="1202" stroke-width="3"/>
<path d="M246,1136v12M334,1136v12M421,1136v12M510,1136v12M598,1136v12M686,1136v12M774,1136v12M862,1136v12M950,1136v12M1038,1136v12 M246,1196v12M334,1196v12M421,1196v12M510,1196v12M598,1196v12M686,1196v12M774,1196v12M862,1196v12M950,1196v12M1038,1196v12" stroke-width="1.5"/>
</g>
<text x="183" y="1207" font-size="13" font-weight="bold" text-anchor="end">p<tspan font-style="italic">ZmPIP2;4</tspan></text>
<polygon points="318,1178 334,1178 326,1197" fill="#e02020"/>
<polygon points="432,1208 424,1228 440,1228" fill="#6aa84f"/>
<polygon points="573,1208 565,1228 581,1228" fill="#e02020"/>
<polygon points="719,1178 735,1178 727,1197" fill="#e6832d"/>
<polygon points="783,1178 799,1178 791,1197" fill="#6aa84f"/>
<polygon points="807,1178 823,1178 815,1197" fill="#6aa84f"/>
<polygon points="878,1208 870,1228 886,1228" fill="#1f3f9a"/>
<polygon points="898,1178 914,1178 906,1197" fill="#e6832d"/>
<rect x="58" y="1246" width="520" height="320" fill="url(#rootL)"/>
<polygon points="58,1530 58,1566 230,1566 578,1250 578,1246 490,1246" fill="#c9c6a8" opacity="0.7"/>
<g stroke="#8a6a70" stroke-width="1.2" fill="none" opacity="0.6"><path d="M120,1566 C250,1450 380,1350 480,1260"/><path d="M160,1566 C280,1450 400,1360 520,1262"/><path d="M200,1566 C310,1460 420,1370 550,1270"/></g>
<rect x="606" y="1246" width="524" height="320" fill="#dcd8e4"/>
<polygon points="640,1246 1105,1246 1112,1400 1130,1530 1130,1566 700,1566 660,1440 640,1340" fill="url(#rootR)"/>
<g font-size="16" font-weight="bold" fill="#111"><text x="68" y="1268">−AMF</text><text x="614" y="1268">+AMF</text></g>
<rect x="495" y="1555" width="80" height="7" fill="#000"/><text x="535" y="1561" font-size="6" fill="#fff" text-anchor="middle">100 μm</text>
<rect x="1040" y="1555" width="84" height="7" fill="#000"/><text x="1082" y="1561" font-size="6" fill="#fff" text-anchor="middle">100 μm</text>
</svg>
</div></body></html>
